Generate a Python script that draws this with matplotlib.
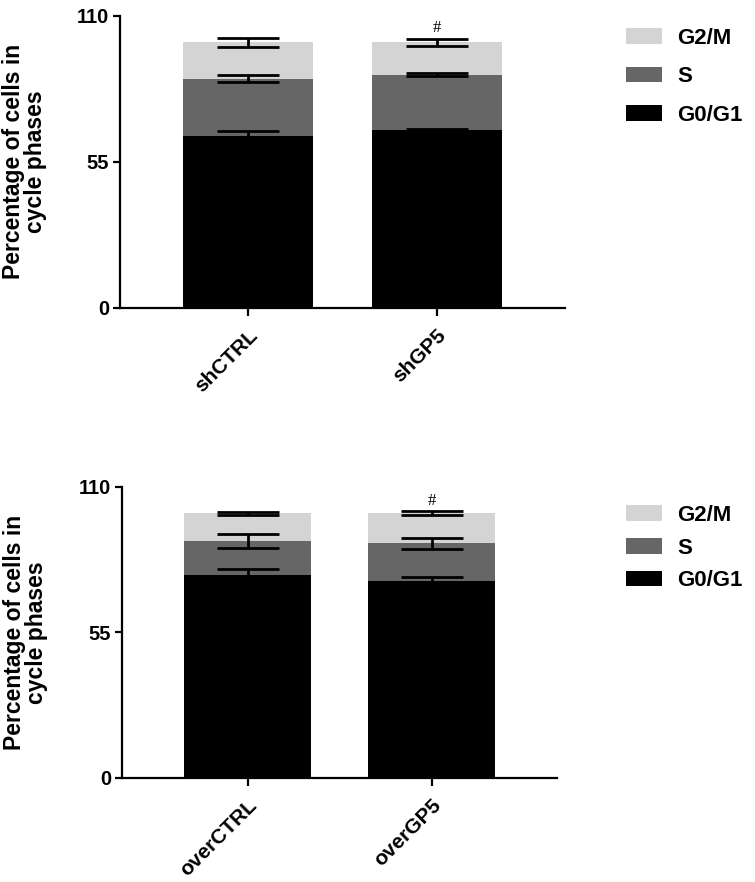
import numpy as np
import matplotlib

matplotlib.use("Agg")
import matplotlib.pyplot as plt
from matplotlib.patches import Patch

plt.rcParams["font.family"] = ["Liberation Sans", "DejaVu Sans"]
plt.rcParams["font.weight"] = "bold"

phases = ["G0/G1", "S", "G2/M"]
colors = ["#000000", "#666666", "#d4d4d4"]

# top panel: knock-down
top_groups = ["shCTRL", "shGP5"]
top_g0g1 = [64.7, 67.1]
top_s = [21.7, 20.7]
top_g2m = [13.6, 12.2]
top_g0g1_err = [2.0, 0.3]
top_s_err = [1.3, 0.6]
top_g2m_err = [1.6, 1.3]

# bottom panel: over-expression
bot_groups = ["overCTRL", "overGP5"]
bot_g0g1 = [76.7, 74.5]
bot_s = [12.8, 14.1]
bot_g2m = [10.5, 11.4]
bot_g0g1_err = [2.2, 1.4]
bot_s_err = [2.5, 2.0]
bot_g2m_err = [0.6, 0.75]

# significance marks
top_marks = ["", "#"]
bot_marks = ["", "#"]


def stacked(ax, groups, segs, errs, marks, mark_y, label_x):
    x = np.arange(len(groups))
    bottom = np.zeros(len(groups))
    for vals, err, col in zip(segs, errs, colors):
        vals = np.array(vals)
        ax.bar(x, vals, bottom=bottom, width=0.69, color=col, zorder=2)
        bottom = bottom + vals
        ax.errorbar(x, bottom, yerr=err, fmt="none", ecolor="black",
                    elinewidth=2.0, capsize=22, capthick=2.0, zorder=3)
    for xi, m in zip(x, marks):
        if m:
            ax.text(xi, mark_y, m, ha="center", va="center", fontsize=12,
                    fontweight="normal", family="Liberation Serif")
    ax.set_xlim(-0.68, 1.68)
    ax.set_ylim(0, 110)
    ax.set_yticks([0, 55, 110])
    ax.set_xticks(x)
    ax.set_xticklabels(groups, rotation=45, ha="right", rotation_mode="anchor",
                       fontsize=15, fontweight="bold")
    for lab in ax.get_yticklabels():
        lab.set_fontsize(14.5)
        lab.set_fontweight("bold")
    ax.spines["top"].set_visible(False)
    ax.spines["right"].set_visible(False)
    for s in ("left", "bottom"):
        ax.spines[s].set_linewidth(1.6)
    ax.tick_params(axis="y", width=1.6, length=5, pad=3)
    ax.tick_params(axis="x", width=1.6, length=6, pad=7)
    ax.set_ylabel("Percentage of cells in\ncycle phases", fontsize=16.5,
                  fontweight="bold", linespacing=0.9)
    ax.yaxis.set_label_coords(label_x, 0.5)


fig = plt.figure(figsize=(7.55, 8.82), dpi=100)
ax1 = fig.add_axes([0.159, 0.651, 0.589, 0.331])
ax2 = fig.add_axes([0.162, 0.118, 0.576, 0.330])

stacked(ax1, top_groups, [top_g0g1, top_s, top_g2m],
        [top_g0g1_err, top_s_err, top_g2m_err], top_marks, 105.5, -0.165)
stacked(ax2, bot_groups, [bot_g0g1, bot_s, bot_g2m],
        [bot_g0g1_err, bot_s_err, bot_g2m_err], bot_marks, 104.5, -0.172)

handles = [Patch(facecolor=c, edgecolor="none") for c in colors][::-1]
labels = phases[::-1]
for ax, anchor, ls in ((ax1, (0.815, 0.981), 0.78), (ax2, (0.815, 0.440), 0.52)):
    ax.legend(handles, labels, loc="upper left", bbox_to_anchor=anchor,
              bbox_transform=fig.transFigure, frameon=False, borderpad=0,
              handlelength=1.6, handleheight=0.7, handletextpad=0.7,
              labelspacing=ls, prop={"size": 16, "weight": "bold"})

fig.savefig("out.png", dpi=100)
